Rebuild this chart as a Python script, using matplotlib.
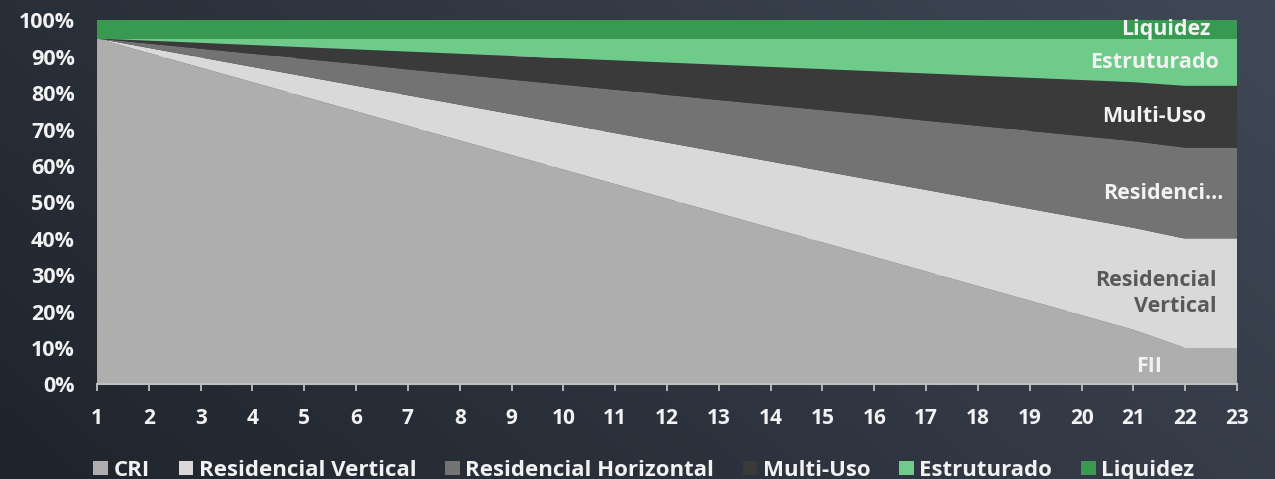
import numpy as np
import matplotlib
matplotlib.use("Agg")
import matplotlib.pyplot as plt
from matplotlib.patches import Patch

# allocation by year (%)
years = list(range(1, 24))
cri = [95, 91, 87, 83, 79, 75, 71, 67, 63, 59, 55, 51, 47, 43, 39, 35, 31, 27, 23, 19, 15, 10, 10]
res_vertical = [0, 1.4, 2.8, 4.2, 5.6, 7.0, 8.4, 9.8, 11.2, 12.6, 14.0, 15.4, 16.8, 18.2, 19.6, 21.0,
                22.4, 23.8, 25.2, 26.6, 28.0, 30, 30]
res_horizontal = [0, 1.2, 2.4, 3.6, 4.8, 6.0, 7.1, 8.3, 9.5, 10.7, 11.9, 13.1, 14.3, 15.5, 16.7, 17.9,
                  19.0, 20.2, 21.4, 22.6, 23.8, 25, 25]
multi_uso = [0, 0.8, 1.6, 2.4, 3.2, 4.0, 4.9, 5.7, 6.5, 7.3, 8.1, 8.9, 9.7, 10.5, 11.3, 12.1,
             13.0, 13.8, 14.6, 15.4, 16.2, 17, 17]
estruturado = [0, 0.6, 1.2, 1.8, 2.4, 3.0, 3.6, 4.2, 4.8, 5.4, 6.0, 6.6, 7.2, 7.8, 8.4, 9.0,
               9.6, 10.2, 10.8, 11.4, 12.0, 13, 13]
liquidez = [5] * 23

legend_names = ["CRI", "Residencial Vertical", "Residencial Horizontal", "Multi-Uso", "Estruturado", "Liquidez"]
end_labels = ["FII", "Residencial\nVertical", "Residenci...", "Multi-Uso", "Estruturado", "Liquidez"]
colors = ["#AEAEAE", "#D9D9D9", "#737373", "#3A3A3A", "#6FCB89", "#389A50"]
label_colors = ["#F2F2F2", "#595959", "#F2F2F2", "#F2F2F2", "#F2F2F2", "#F2F2F2"]

series = [cri, res_vertical, res_horizontal, multi_uso, estruturado, liquidez]
series = [np.array(s) / 100 for s in series]

font = ["Open Sans", "DejaVu Sans"]

fig = plt.figure(figsize=(12.75, 4.79), dpi=100)

# dark gradient background
bg = fig.add_axes([0, 0, 1, 1], zorder=-10)
gx, gy = np.meshgrid(np.linspace(0, 1, 300), np.linspace(0, 1, 120))
t = np.clip(0.7 * gx + 0.3 * gy, 0, 1)[..., None]
c0 = np.array([31, 36, 44]) / 255
c1 = np.array([64, 72, 86]) / 255
bg.imshow(c0 + (c1 - c0) * t, aspect="auto", origin="lower", extent=[0, 1, 0, 1])
bg.axis("off")

ax = fig.add_axes([0.0761, 0.1977, 0.8941, 0.7599])
ax.set_facecolor("none")
ax.stackplot(years, *series, colors=colors, labels=legend_names, zorder=2,
             edgecolor="none", linewidth=0)

ax.set_xlim(1, 23)
ax.set_ylim(0, 1)
ax.set_yticks(np.arange(0, 1.01, 0.1))
ax.set_yticklabels([f"{int(round(v * 100))}%" for v in np.arange(0, 1.01, 0.1)])
ax.set_xticks(years)
ax.grid(axis="y", color="#D9D9D9", linewidth=1.2, zorder=0)
ax.set_axisbelow(True)

for side in ["top", "right", "left"]:
    ax.spines[side].set_visible(False)
ax.spines["bottom"].set_color("#BFBFBF")
ax.spines["bottom"].set_linewidth(1.5)
ax.spines["bottom"].set_zorder(5)

ax.tick_params(axis="y", length=0, pad=16, colors="#F2F2F2")
ax.tick_params(axis="x", length=5, width=1.3, color="#BFBFBF", direction="out", pad=12, colors="#F2F2F2")
for lab in ax.get_yticklabels():
    lab.set_family(font)
    lab.set_fontweight("bold")
    lab.set_fontsize(15.5)
for lab in ax.get_xticklabels():
    lab.set_family(font)
    lab.set_fontweight("bold")
    lab.set_fontsize(15)

# labels on the last point, in the middle of each band
label_x = [21.31, 21.44, 21.57, 21.40, 21.40, 21.62]
base = 0
for s, txt, col, lx in zip(series, end_labels, label_colors, label_x):
    mid = base + s[-1] / 2
    ax.text(lx, mid, txt, ha="center", va="center", fontsize=15.5, fontweight="bold",
            color=col, family=font, linespacing=1.3, zorder=6,
            multialignment="right")
    base += s[-1]

handles = [Patch(facecolor=c, edgecolor="none") for c in colors]
leg = fig.legend(handles, legend_names, loc="center", bbox_to_anchor=(0.505, 0.018),
                 ncol=6, frameon=False, handlelength=0.65, handleheight=0.65,
                 handletextpad=0.25, columnspacing=1.3,
                 prop={"family": font, "weight": "bold", "size": 16})
for txt in leg.get_texts():
    txt.set_color("#F2F2F2")

fig.savefig("out.png", dpi=100)
